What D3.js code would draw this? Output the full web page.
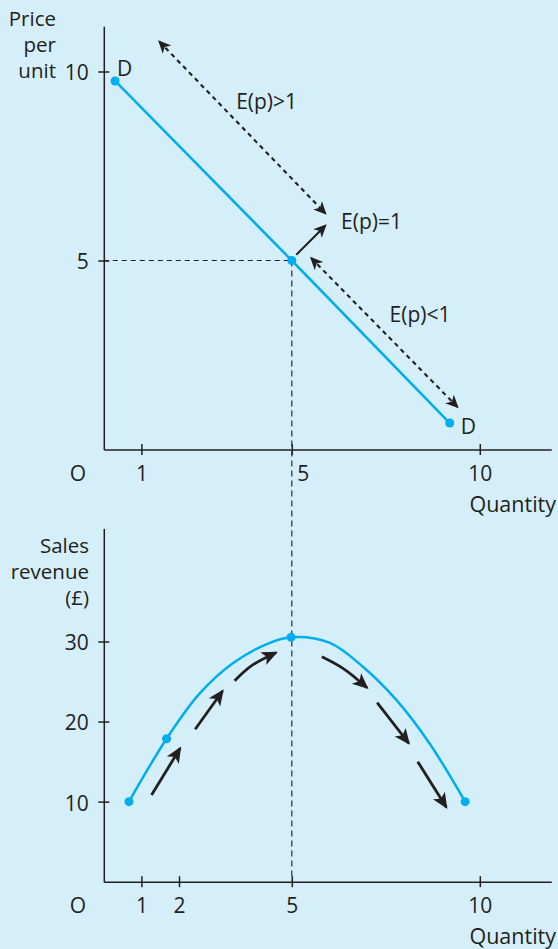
<!DOCTYPE html>
<html>
<head>
<meta charset="utf-8">
<script src="https://cdn.jsdelivr.net/npm/d3@7"></script>
<style>
  html, body { margin: 0; padding: 0; background: #D4EEFA; }
  svg { display: block; }
  text { font-family: "Open Sans", sans-serif; fill: #231F20; }
</style>
</head>
<body>
<svg id="chart" width="558" height="949"></svg>
<script>
// ---- Demand schedule (quantity, price per unit) ----
const demandQuantity = [0.3, 5, 9.2];
const demandPrice = [9.75, 5, 0.7];

// ---- Total sales revenue traced along quantity ----
const revenueQuantity = [0.67, 1.67, 2.54, 3.43, 4.32, 4.98, 6.0, 6.89, 7.78, 8.66, 9.61];
const revenueValue    = [10, 17.86, 23.45, 27.28, 29.65, 30.53, 29.85, 26.85, 22.7, 17.29, 10];
const revenueDotQuantity = [0.67, 1.67, 4.98, 9.61];
const revenueDotValue    = [10, 17.86, 30.53, 10];

// ---- Tick labels ----
const quantityTicksTop = [1, 5, 10];
const quantityTicksBottom = [1, 2, 5, 10];
const priceTicks = [5, 10];
const revenueTicks = [10, 20, 30];

// ---- Elasticity ranges on the demand curve ([quantity, price] ends) ----
const elasticRangeFrom = [[1.48, 10.79], [5.52, 5.06]];
const elasticRangeTo   = [[5.89, 6.25], [9.4, 1.13]];
const unitElasticFrom = [5.12, 5.15];
const unitElasticTo   = [5.89, 5.92];
const elasticityLabels = ["E(p)>1", "E(p)=1", "E(p)<1"];
const elasticityLabelQ = [3.52, 6.31, 7.6];
const elasticityLabelP = [9.01, 5.83, 3.38];

// ---- Direction of revenue change ([quantity, revenue] points per arrow) ----
const revenueArrows = [
  [[1.27, 10.83], [2.03, 16.66]],
  [[2.43, 19.04], [3.16, 23.82]],
  [[3.48, 25.11], [3.96, 27.07], [4.58, 28.6]],
  [[5.8, 28.1], [6.4, 26.53], [7.0, 24.23]],
  [[7.27, 22.36], [8.11, 17.29]],
  [[8.35, 14.99], [9.11, 9.29]]
];

const ink = "#231F20";
const cyan = "#00AEEF";
const qAxisEnd = 11.9, pAxisEnd = 11.2, rAxisEnd = 44.1;

const svg = d3.select("#chart");
svg.append("rect").attr("width", 558).attr("height", 949).attr("fill", "#D4EEFA");

// Scales: shared quantity axis, separate price / revenue axes
const x = d3.scaleLinear().domain([0, 10]).range([103.8, 479.8]);
const yTop = d3.scaleLinear().domain([0, 10]).range([449.5, 71.5]);
const yBot = d3.scaleLinear().domain([0, 30]).range([881.7, 641.5]);

// Arrowhead markers
const defs = svg.append("defs");
function head(id, len, half, notch) {
  defs.append("marker")
    .attr("id", id)
    .attr("markerUnits", "userSpaceOnUse")
    .attr("viewBox", `${-len - 2} ${-half - 2} ${len + 5} ${2 * half + 4}`)
    .attr("markerWidth", len + 5).attr("markerHeight", 2 * half + 4)
    .attr("refX", 0).attr("refY", 0)
    .attr("orient", "auto-start-reverse")
    .append("path")
    .attr("d", `M2,0 L${-len + 2},${-half} L${-len + 2 + notch},0 L${-len + 2},${half} Z`)
    .attr("fill", ink);
}
head("headBig", 16, 7, 4);
head("headSmall", 13, 6, 3.5);

// ---------- Axes ----------
function styleAxis(g) {
  g.select(".domain").attr("stroke", ink).attr("stroke-width", 1.5);
  g.selectAll(".tick line").attr("stroke", ink).attr("stroke-width", 1.5);
  g.selectAll(".tick text").attr("font-size", 21).attr("fill", ink)
    .attr("font-family", "'Open Sans', sans-serif");
}

function quantityAxis(yPos, ticks, isTop) {
  const ext = x.copy().domain([0, qAxisEnd]).range([x(0), x(qAxisEnd)]);
  const g = svg.append("g").attr("transform", `translate(0,${yPos})`)
    .call(d3.axisBottom(ext).tickValues(ticks).tickSizeOuter(0).tickFormat(d3.format("d")));
  styleAxis(g);
  g.selectAll(".tick line").attr("y1", -5.5).attr("y2", 5.5);
  g.selectAll(".tick text").attr("y", 31.5).attr("dy", null);
  if (isTop) {
    g.selectAll(".tick text").filter(d => d === 5)
      .attr("text-anchor", "start").attr("x", 5);
  }
  svg.append("text").attr("x", 78).attr("y", yPos + 31.5)
    .attr("text-anchor", "middle").attr("font-size", 21).text("O");
  svg.append("text").attr("x", 556).attr("y", yPos + 62)
    .attr("text-anchor", "end").attr("font-size", 21.5).text("Quantity");
}

function valueAxis(scale, end, ticks) {
  const ext = scale.copy().domain([0, end]).range([scale(0), scale(end)]);
  const g = svg.append("g").attr("transform", `translate(${x(0)},0)`)
    .call(d3.axisLeft(ext).tickValues(ticks).tickSizeOuter(0).tickSizeInner(6).tickPadding(9));
  styleAxis(g);
  g.selectAll(".tick line").attr("x1", -5.5).attr("x2", 5.5);
  g.selectAll(".tick text").attr("dy", "0.4em");
}

valueAxis(yTop, pAxisEnd, priceTicks);
valueAxis(yBot, rAxisEnd, revenueTicks);
quantityAxis(yTop(0), quantityTicksTop, true);
quantityAxis(yBot(0), quantityTicksBottom, false);

// Axis titles
function stack(lines, xr, y0) {
  lines.forEach((t, i) => svg.append("text").attr("x", xr).attr("y", y0 + i * 26)
    .attr("text-anchor", "end").attr("font-size", 20.5).text(t));
}
stack(["Price", "per", "unit"], 56, 26);
stack(["Sales", "revenue", "(£)"], 89, 553);

// ---------- Guide lines at unit elasticity ----------
svg.append("line")
  .attr("x1", x(0)).attr("x2", x(5)).attr("y1", yTop(5)).attr("y2", yTop(5))
  .attr("stroke", ink).attr("stroke-width", 1.2).attr("stroke-dasharray", "5,4");
svg.append("line")
  .attr("x1", x(5)).attr("x2", x(5)).attr("y1", yTop(5)).attr("y2", yBot(0))
  .attr("stroke", "#3a3a3a").attr("stroke-width", 1.3).attr("stroke-dasharray", "6,4");

// ---------- Demand curve ----------
const demand = demandQuantity.map((q, i) => [q, demandPrice[i]]);
svg.append("path")
  .datum(demand)
  .attr("d", d3.line().x(d => x(d[0])).y(d => yTop(d[1])))
  .attr("fill", "none").attr("stroke", cyan).attr("stroke-width", 2.5);
svg.selectAll(".dDot").data(demand).join("circle")
  .attr("cx", d => x(d[0])).attr("cy", d => yTop(d[1])).attr("r", 4.5).attr("fill", cyan);

const dFirst = demand[0], dLast = demand[demand.length - 1];
svg.append("text").attr("x", x(dFirst[0]) + 2).attr("y", yTop(dFirst[1]) - 5)
  .attr("font-size", 21).text("D");
svg.append("text").attr("x", x(dLast[0]) + 11).attr("y", yTop(dLast[1]) + 11)
  .attr("font-size", 21).text("D");

// Elasticity arrows
elasticRangeFrom.forEach((f, i) => {
  const t = elasticRangeTo[i];
  svg.append("line")
    .attr("x1", x(f[0])).attr("y1", yTop(f[1])).attr("x2", x(t[0])).attr("y2", yTop(t[1]))
    .attr("stroke", ink).attr("stroke-width", 2.1).attr("stroke-dasharray", "4.5,4")
    .attr("marker-start", "url(#headSmall)").attr("marker-end", "url(#headSmall)");
});
svg.append("line")
  .attr("x1", x(unitElasticFrom[0])).attr("y1", yTop(unitElasticFrom[1]))
  .attr("x2", x(unitElasticTo[0])).attr("y2", yTop(unitElasticTo[1]))
  .attr("stroke", ink).attr("stroke-width", 2).attr("marker-end", "url(#headSmall)");
elasticityLabels.forEach((t, i) => {
  svg.append("text").attr("x", x(elasticityLabelQ[i])).attr("y", yTop(elasticityLabelP[i]))
    .attr("font-size", 21).text(t);
});

// ---------- Revenue curve ----------
const revenue = revenueQuantity.map((q, i) => [q, revenueValue[i]]);
svg.append("path")
  .datum(revenue)
  .attr("d", d3.line().x(d => x(d[0])).y(d => yBot(d[1])).curve(d3.curveCatmullRom.alpha(0.5)))
  .attr("fill", "none").attr("stroke", cyan).attr("stroke-width", 2.5);
svg.selectAll(".rDot").data(revenueDotQuantity.map((q, i) => [q, revenueDotValue[i]])).join("circle")
  .attr("cx", d => x(d[0])).attr("cy", d => yBot(d[1])).attr("r", 4.5).attr("fill", cyan);

const arrowLine = d3.line().x(d => x(d[0])).y(d => yBot(d[1])).curve(d3.curveNatural);
revenueArrows.forEach(pts => {
  svg.append("path")
    .attr("d", arrowLine(pts))
    .attr("fill", "none").attr("stroke", ink).attr("stroke-width", 2.8)
    .attr("marker-end", "url(#headBig)");
});
</script>
</body>
</html>
